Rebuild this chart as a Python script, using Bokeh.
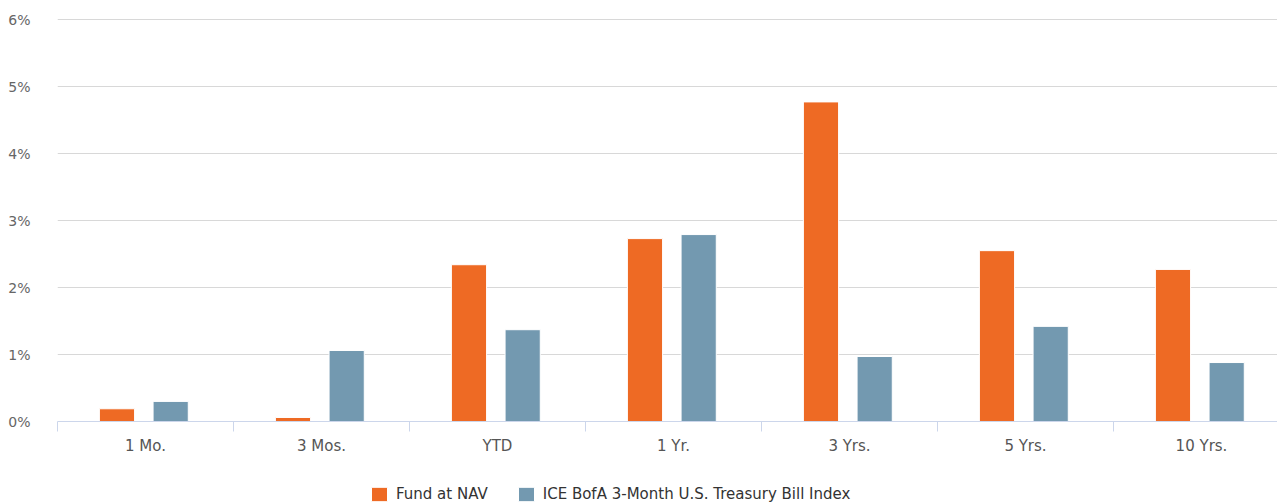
from bokeh.plotting import figure
from bokeh.layouts import column
from bokeh.models import ColumnDataSource, Legend, LegendItem, FixedTicker, Range1d
from bokeh.embed import file_html
from bokeh.resources import INLINE

categories = ["1 Mo.", "3 Mos.", "YTD", "1 Yr.", "3 Yrs.", "5 Yrs.", "10 Yrs."]
fund_nav = [0.19, 0.06, 2.34, 2.73, 4.77, 2.55, 2.27]
index_vals = [0.30, 1.06, 1.37, 2.79, 0.97, 1.42, 0.88]
y_ticks = [0, 1, 2, 3, 4, 5, 6]
y_tick_labels = ["0%", "1%", "2%", "3%", "4%", "5%", "6%"]
series_names = ["Fund at NAV", "ICE BofA 3-Month U.S. Treasury Bill Index"]
colors = ["#ee6a24", "#7399b0"]

pos = [i + 0.5 for i in range(len(categories))]
src = ColumnDataSource(dict(x=pos, fund=fund_nav, idx=index_vals,
                            xf=[p - 0.162 for p in pos], xi=[p + 0.143 for p in pos]))

W = 1277
p = figure(width=W, height=485, output_backend="svg", toolbar_location=None,
           x_range=Range1d(0, 1220 / 176), y_range=Range1d(0, 6.03),
           min_border_left=57, min_border_right=0, min_border_top=17, min_border_bottom=64)
p.outline_line_color = None

r1 = p.vbar(x="xf", top="fund", width=0.2, bottom=0, source=src,
            fill_color=colors[0], line_color="white", line_width=1)
r2 = p.vbar(x="xi", top="idx", width=0.2, bottom=0, source=src,
            fill_color=colors[1], line_color="white", line_width=1)

# y axis
p.yaxis.ticker = FixedTicker(ticks=y_ticks)
p.yaxis.major_label_overrides = {t: l for t, l in zip(y_ticks, y_tick_labels)}
p.yaxis.axis_line_color = None
p.yaxis.major_tick_line_color = None
p.yaxis.minor_tick_line_color = None
p.yaxis.major_label_standoff = 21
p.yaxis.major_label_text_font = "DejaVu Sans"
p.yaxis.major_label_text_font_size = "14px"
p.yaxis.major_label_text_color = "#666666"
p.ygrid.ticker = FixedTicker(ticks=y_ticks[1:])
p.ygrid.grid_line_color = "#d8d8d8"
p.ygrid.grid_line_width = 1

# x axis
p.xgrid.grid_line_color = None
p.xaxis.ticker = FixedTicker(ticks=pos, minor_ticks=list(range(0, 8)))
p.xaxis.major_label_overrides = {pp: c for pp, c in zip(pos, categories)}
p.xaxis.axis_line_color = "#ccd6eb"
p.xaxis.axis_line_width = 1
p.xaxis.major_tick_line_color = None
p.xaxis.minor_tick_line_color = "#ccd6eb"
p.xaxis.minor_tick_line_width = 1
p.xaxis.minor_tick_in = 0
p.xaxis.minor_tick_out = 10
p.xaxis.major_tick_in = 0
p.xaxis.major_tick_out = 0
p.xaxis.major_label_standoff = 5
p.xaxis.major_label_text_font = "DejaVu Sans"
p.xaxis.major_label_text_font_size = "15px"
p.xaxis.major_label_text_color = "#555555"

# legend strip
lg = figure(width=W, height=18, output_backend="svg", toolbar_location=None,
            x_range=Range1d(0, 1), y_range=Range1d(0, 1),
            min_border=0, min_border_left=0, min_border_right=0,
            min_border_top=0, min_border_bottom=0)
lg.axis.visible = False
lg.grid.visible = False
lg.outline_line_color = None
d1 = lg.vbar(x=[-10], top=[-10], width=0.1, fill_color=colors[0], line_color="white")
d2 = lg.vbar(x=[-10], top=[-10], width=0.1, fill_color=colors[1], line_color="white")
legend = Legend(items=[LegendItem(label=series_names[0], renderers=[d1]),
                       LegendItem(label=series_names[1], renderers=[d2])],
                location=(312, 0), orientation="horizontal",
                glyph_width=20, glyph_height=18, label_height=18, label_standoff=7, spacing=28,
                padding=0, margin=0, border_line_color=None, background_fill_alpha=0,
                label_text_font="DejaVu Sans", label_text_font_size="15px",
                label_text_color="#333333")
lg.add_layout(legend, "center")

open("out.html", "w").write(file_html(column(p, lg, spacing=0), INLINE))
